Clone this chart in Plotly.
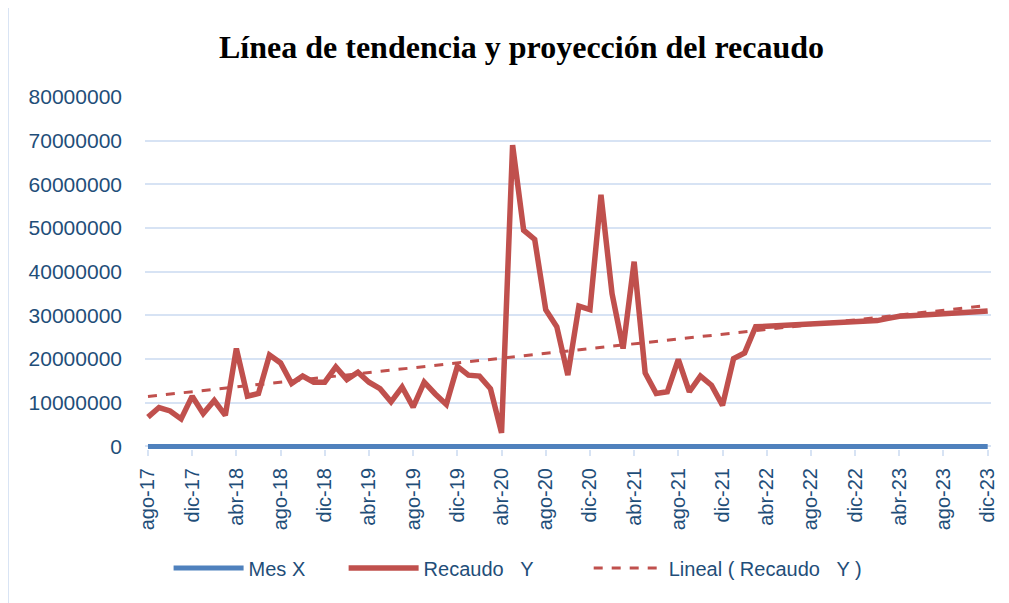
import numpy as np
import plotly.graph_objects as go

months_es = ["ene", "feb", "mar", "abr", "may", "jun", "jul", "ago", "sep", "oct", "nov", "dic"]
# Aug 2017 .. Dec 2023 (77 months)
month_labels = []
for k in range(77):
    m = (7 + k) % 12
    y = 17 + (7 + k) // 12
    month_labels.append(f"{months_es[m]}-{y:02d}")

mes_x = list(range(1, 78))

recaudo_y = [
    6.7e6, 8.9e6, 8.1e6, 6.3e6, 11.5e6, 7.5e6, 10.5e6, 7.1e6,
    22.4e6, 11.5e6, 12.1e6, 20.9e6, 19.1e6, 14.4e6, 16.1e6, 14.7e6,
    14.7e6, 18.2e6, 15.3e6, 17.0e6, 14.7e6, 13.2e6, 10.2e6, 13.6e6,
    9.0e6, 14.7e6, 12.0e6, 9.6e6, 18.3e6, 16.3e6, 16.1e6, 13.2e6,
    3.1e6, 69.0e6, 49.5e6, 47.4e6, 31.3e6, 27.4e6, 16.3e6, 32.1e6,
    31.3e6, 57.6e6, 35.0e6, 22.4e6, 42.3e6, 16.8e6, 12.1e6, 12.5e6,
    19.9e6, 12.5e6, 16.1e6, 14.0e6, 9.4e6, 20.1e6, 21.4e6, 27.4e6,
    27.5e6, 27.6e6, 27.7e6, 27.8e6, 27.9e6, 28.0e6, 28.1e6, 28.3e6,
    28.4e6, 28.6e6, 28.8e6, 29.3e6, 29.8e6, 29.9e6, 30.0e6, 30.2e6,
    30.3e6, 30.5e6, 30.7e6, 30.8e6, 31.0e6,
]

tick_idx = list(range(0, 77, 4))
tick_text = [month_labels[i] for i in tick_idx]
y_ticks = list(range(0, 80000001, 10000000))

x = np.arange(len(recaudo_y))
coef = np.polyfit(x, np.array(recaudo_y), 1)
trend = np.polyval(coef, x)

FONT = "Liberation Sans"
TXT = "#1F4E79"
RED = "#C0504D"
BLUE = "#4F81BD"
GRID = "#D7E3F4"
NB = "\u00a0"

fig = go.Figure()
fig.add_trace(go.Scatter(x=x, y=mes_x, mode="lines", name="Mes X" + NB * 6,
                         line=dict(color=BLUE, width=5)))
fig.add_trace(go.Scatter(x=x, y=recaudo_y, mode="lines",
                         name="Recaudo" + NB * 3 + "Y" + NB * 9,
                         line=dict(color=RED, width=5.5)))
fig.add_trace(go.Scatter(x=x, y=trend, mode="lines",
                         name="Lineal ( Recaudo" + NB * 3 + "Y )",
                         line=dict(color=RED, width=3, dash="dash")))

fig.update_layout(
    width=1001, height=595,
    paper_bgcolor="white", plot_bgcolor="white",
    margin=dict(l=137, r=18, t=89, b=154, autoexpand=False),
    title=dict(text="<b>Línea de tendencia y proyección del recaudo</b>",
               x=0.513, xanchor="center", y=0.9345, yanchor="middle",
               font=dict(family="Liberation Serif", size=32, color="black")),
    font=dict(family=FONT, color=TXT, size=20),
    showlegend=True,
    legend=dict(orientation="h", x=0.441, xanchor="center", y=-0.338, yanchor="middle",
                font=dict(family=FONT, size=20, color=TXT), itemwidth=70,
                traceorder="normal"),
)
fig.update_xaxes(
    range=[-0.27, 76.3], tickmode="array", tickvals=tick_idx, ticktext=tick_text,
    tickangle=-90, showgrid=False, zeroline=False, showline=False, automargin=False,
    ticks="outside", ticklen=6, tickcolor=GRID, tickwidth=2, ticklabelstandoff=4,
    tickfont=dict(family=FONT, size=20, color=TXT),
)
fig.update_yaxes(
    range=[-600000, 80000000], tickmode="array", tickvals=y_ticks,
    ticktext=[str(v) for v in y_ticks], automargin=False,
    showgrid=True, gridcolor=GRID, gridwidth=2, zeroline=False, showline=False,
    tickfont=dict(family=FONT, size=21, color=TXT), ticklabelstandoff=22,
)
fig.add_shape(type="line", xref="paper", yref="paper",
              x0=-0.162, x1=1.03, y0=1.256, y1=1.256,
              line=dict(color=GRID, width=2))
fig.add_shape(type="line", xref="paper", yref="paper",
              x0=-0.162, x1=-0.162, y0=1.256, y1=-0.5,
              line=dict(color=GRID, width=2))

fig.write_html("out.html")
